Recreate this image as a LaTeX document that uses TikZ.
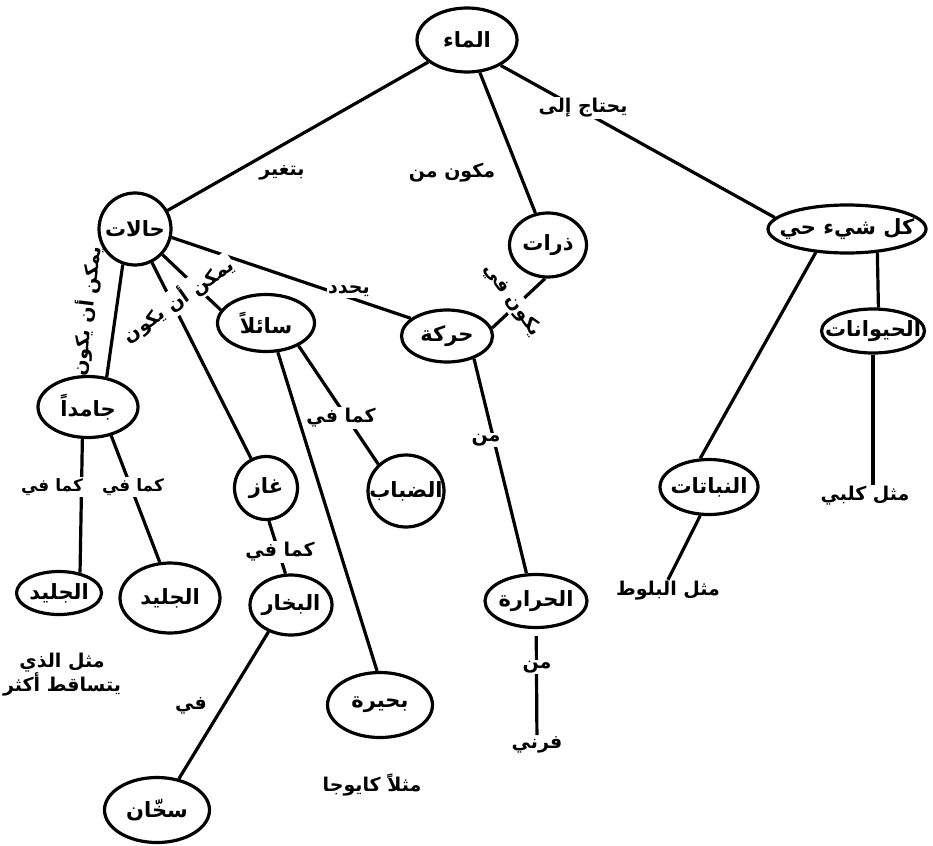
\documentclass[tikz,border=0pt]{standalone}
\usepackage{fontspec}
\TeXXeTstate=1
\newfontfamily\arabicfont[Script=Arabic]{DejaVu Sans}
\usetikzlibrary{shapes.geometric}
\newcommand{\artxt}[1]{{\arabicfont\bfseries\beginR #1\endR}}
\newcommand{\ctxt}[1]{\makebox[0.6\width]{\artxt{#1}}}
\tikzset{
  concept/.style={ellipse, draw, line width=3.2pt, inner sep=0pt, font=\fontsize{21}{24}\selectfont},
  lbl/.style={inner sep=1.5pt, font=\fontsize{19}{24}\selectfont},
  wlbl/.style={lbl, fill=white},
  small/.style={font=\fontsize{17}{22}\selectfont},
  conn/.style={line width=3.2pt}
}
\begin{document}
\begin{tikzpicture}[x=1pt,y=-1pt]
\useasboundingbox[fill=white] (0,0) rectangle (933,845);
% concepts
\node[concept, minimum width=100pt, minimum height=64pt] (water) at (467,40) {\ctxt{الماء}};
\node[concept, minimum width=72pt, minimum height=72pt] (states) at (135,229) {\ctxt{حالات}};
\node[concept, minimum width=77pt, minimum height=64pt] (atoms) at (548,245) {\ctxt{ذرات}};
\node[concept, minimum width=158pt, minimum height=48pt] (living) at (847,229) {\ctxt{كل شيء حي}};
\node[concept, minimum width=103pt, minimum height=44pt] (animals) at (873,331) {\ctxt{الحيوانات}};
\node[concept, minimum width=97pt, minimum height=57pt] (liquid) at (266,323) {\ctxt{سائلاً}};
\node[concept, minimum width=91pt, minimum height=52pt] (motion) at (447,336) {\ctxt{حركة}};
\node[concept, minimum width=100pt, minimum height=61pt] (solid) at (88,407) {\ctxt{جامداً}};
\node[concept, minimum width=63pt, minimum height=63pt] (gas) at (266,488) {\ctxt{غاز}};
\node[concept, minimum width=76pt, minimum height=72pt] (fog) at (406,491) {\ctxt{الضباب}};
\node[concept, minimum width=98pt, minimum height=55pt] (plants) at (709,487) {\ctxt{النباتات}};
\node[concept, minimum width=85pt, minimum height=43pt] (iceA) at (59,593) {\ctxt{الجليد}};
\node[concept, minimum width=100pt, minimum height=70pt] (iceB) at (170,598) {\ctxt{الجليد}};
\node[concept, minimum width=82pt, minimum height=60pt] (vapor) at (291,605) {\ctxt{البخار}};
\node[concept, minimum width=105pt, minimum height=65pt] (lake) at (380,705) {\ctxt{بحيرة}};
\node[concept, minimum width=102pt, minimum height=53pt] (heat) at (536,601) {\ctxt{الحرارة}};
\node[concept, minimum width=105pt, minimum height=65pt] (heater) at (157,810) {\ctxt{سخّان}};
% plain texts
\node[lbl] (oven) at (537,745) {\artxt{فرني}};
\node[lbl] (dog) at (865,496) {\artxt{مثل كلبي}};
\node[lbl] (oak) at (668,591) {\artxt{مثل البلوط}};
\node[lbl, align=center] (falls) at (62,675) {\artxt{مثل الذي}\\\artxt{يتساقط أكثر}};
\node[lbl] (cayuga) at (372,785) {\artxt{مثلاً كايوجا}};
\node[lbl] (lchange) at (282,173) {\artxt{بتغير}};
\node[lbl] (lmade) at (452,173) {\artxt{مكون من}};
\node[lbl, rotate=83] (lcanA) at (86,311) {\artxt{يمكن أن يكون}};
\node[lbl] (linB) at (191,706) {\artxt{في}};
% connectors
\draw[conn] (water) -- (states);
\draw[conn] (water) -- (atoms);
\draw[conn] (water.-37) -- (living.171);
\draw[conn] (states.-109) -- (solid.58);
\draw[conn] (states) -- (gas);
\draw[conn] (states.-43) -- (liquid.164);
\draw[conn] (states.-13) -- (motion.154);
\draw[conn] (atoms.-95) -- (motion.10);
\draw[conn] (liquid.-35) -- (fog.136);
\draw[conn] (liquid.-68) -- (lake.95);
\draw[conn] (solid.-100) -- (iceA.44);
\draw[conn] (solid.-51) -- (iceB.106);
\draw[conn] (gas.-85) -- (vapor.100);
\draw[conn] (vapor.-130) -- (heater.55);
\draw[conn] (motion.-40) -- (heat.109);
\draw[conn, shorten <=7pt] (heat) -- (oven);
\draw[conn] (living.-143) -- (plants.107);
\draw[conn] (living.-38) -- (animals.77);
\draw[conn] (animals.south) -- (animals.south |- dog.north);
\draw[conn] (plants.-107) -- (oak.north);
% linking labels over connectors
\node[wlbl] (lneeds) at (583,108) {\artxt{يحتاج إلى}};
\node[wlbl, rotate=35] (lcanB) at (178,300) {\artxt{يمكن أن يكون}};
\node[wlbl] (ldet) at (349,291) {\artxt{يحدد}};
\node[wlbl, rotate=-54] (lin) at (512,300) {\artxt{يكون في}};
\node[wlbl] (llikeF) at (341,418) {\artxt{كما في}};
\node[wlbl, small] (llikeA) at (52,487) {\artxt{كما في}};
\node[wlbl, small] (llikeB) at (133,487) {\artxt{كما في}};
\node[wlbl] (llikeV) at (280,552) {\artxt{كما في}};
\node[wlbl] (lfromA) at (486,440) {\artxt{من}};
\node[wlbl] (lfromB) at (537,667) {\artxt{من}};
\end{tikzpicture}
\end{document}
